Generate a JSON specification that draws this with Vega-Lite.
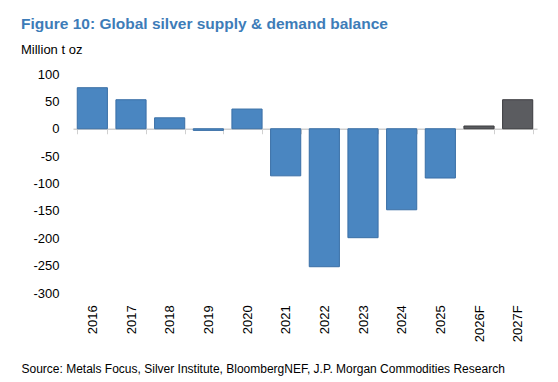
{
  "$schema": "https://vega.github.io/schema/vega-lite/v6.json",
  "autosize": "none",
  "width": 464,
  "height": 219,
  "padding": {"left": 73, "top": 74, "right": 21, "bottom": 89},
  "background": "white",
  "title": {
    "text": "Figure 10: Global silver supply & demand balance",
    "subtitle": "Million t oz",
    "anchor": "start",
    "frame": "group",
    "dx": -52,
    "offset": 11,
    "font": "Liberation Sans",
    "fontSize": 15.5,
    "fontWeight": "bold",
    "color": "#3D7CB8",
    "subtitleFont": "Liberation Sans",
    "subtitleFontSize": 13,
    "subtitleColor": "#000000",
    "subtitlePadding": 12
  },
  "data": {
    "values": [
      {"year": "2016", "balance": 75, "type": "Actual"},
      {"year": "2017", "balance": 53, "type": "Actual"},
      {"year": "2018", "balance": 20, "type": "Actual"},
      {"year": "2019", "balance": -3, "type": "Actual"},
      {"year": "2020", "balance": 36, "type": "Actual"},
      {"year": "2021", "balance": -86, "type": "Actual"},
      {"year": "2022", "balance": -252, "type": "Actual"},
      {"year": "2023", "balance": -199, "type": "Actual"},
      {"year": "2024", "balance": -148, "type": "Actual"},
      {"year": "2025", "balance": -90, "type": "Actual"},
      {"year": "2026F", "balance": 5, "type": "Forecast"},
      {"year": "2027F", "balance": 53, "type": "Forecast"}
    ]
  },
  "mark": {"type": "bar", "strokeWidth": 1},
  "encoding": {
    "x": {
      "field": "year",
      "type": "nominal",
      "sort": null,
      "scale": {"paddingInner": 0.22, "paddingOuter": 0.11},
      "axis": {
        "title": "Source: Metals Focus, Silver Institute, BloombergNEF, J.P. Morgan Commodities Research",
        "titleFont": "Liberation Sans",
        "titleFontSize": 12,
        "titleFontWeight": "normal",
        "titleColor": "#000000",
        "titleAnchor": "start",
        "titleAlign": "left",
        "titleX": -52,
        "titleY": 235,
        "offset": -164.25,
        "labelAngle": -90,
        "labelAlign": "right",
        "labelBaseline": "middle",
        "labelPadding": 171,
        "labelFont": "Liberation Sans",
        "labelFontSize": 13,
        "labelColor": "#000000",
        "domainColor": "#D0D0D0",
        "domainWidth": 1.5,
        "tickColor": "#D0D0D0",
        "tickSize": 5,
        "tickBand": "extent",
        "grid": false
      }
    },
    "y": {
      "field": "balance",
      "type": "quantitative",
      "scale": {"domain": [-300, 100], "nice": false},
      "axis": {
        "title": null,
        "values": [100, 50, 0, -50, -100, -150, -200, -250, -300],
        "labelExpr": "'' + datum.value",
        "domain": false,
        "ticks": false,
        "grid": false,
        "labelPadding": 14,
        "labelFont": "Liberation Sans",
        "labelFontSize": 13,
        "labelColor": "#000000"
      }
    },
    "color": {
      "field": "type",
      "type": "nominal",
      "scale": {"domain": ["Actual", "Forecast"], "range": ["#4A86C1", "#5B5C60"]},
      "legend": null
    },
    "stroke": {
      "field": "type",
      "type": "nominal",
      "scale": {"domain": ["Actual", "Forecast"], "range": ["#3A6FA6", "#3C3C3F"]},
      "legend": null
    }
  },
  "config": {"view": {"stroke": null}}
}
